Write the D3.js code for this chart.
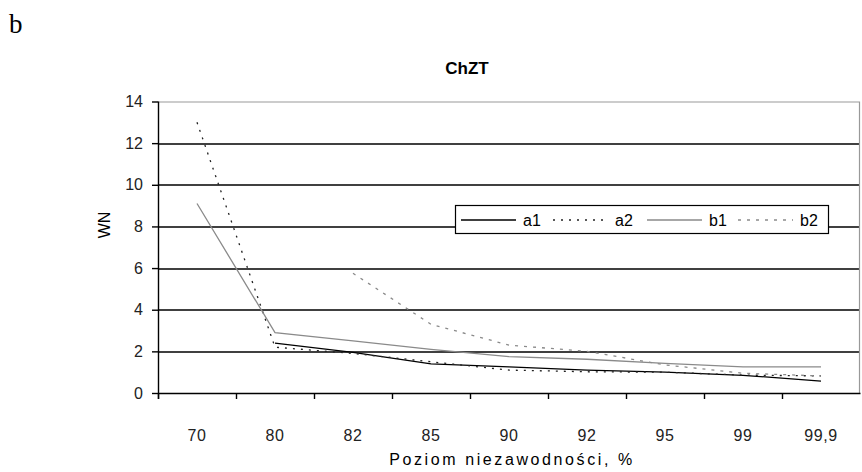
<!DOCTYPE html>
<html>
<head>
<meta charset="utf-8">
<script src="https://cdn.jsdelivr.net/npm/d3@7"></script>
<style>
  body { margin: 0; background: #fff; }
  svg { display: block; }
  text { font-family: Arial, "Liberation Sans", sans-serif; }
</style>
</head>
<body>
<div class="chart"></div>
<script>
// data
let categories = ['70', '80', '82', '85', '90', '92', '95', '99', '99,9'];
let a1 = [null, 2.4, 1.95, 1.4, 1.25, 1.1, 1.0, 0.85, 0.57];
let a2 = [13.0, 2.2, 1.9, 1.5, 1.1, 1.02, 1.0, 0.86, 0.82];
let b1 = [9.1, 2.9, 2.5, 2.1, 1.75, 1.62, 1.42, 1.25, 1.25];
let b2 = [null, null, 5.75, 3.3, 2.3, 2.0, 1.35, 0.95, 0.82];
let yTicks = [0, 2, 4, 6, 8, 10, 12, 14];

let series = [
	{name: 'a1', values: a1, color: '#000', dash: null},
	{name: 'a2', values: a2, color: '#222', dash: '2,6'},
	{name: 'b1', values: b1, color: '#8a8a8a', dash: null},
	{name: 'b2', values: b2, color: '#8a8a8a', dash: '3,6'}
];

let W = 862, H = 472;
let margin = {top: 101.5, right: 2, bottom: 79, left: 158};
let width = W - margin.left - margin.right;
let height = H - margin.top - margin.bottom;

let root = d3.select('.chart')
	.append('svg')
	.attr('width', W)
	.attr('height', H);

// panel letter
root.append('text')
	.attr('x', 9)
	.attr('y', 33)
	.style('font-family', '"Liberation Serif", "DejaVu Serif", serif')
	.style('font-size', '27px')
	.text('b');

root.append('text')
	.attr('x', 467)
	.attr('y', 74)
	.attr('text-anchor', 'middle')
	.style('font-size', '17px')
	.style('font-weight', 'bold')
	.text('ChZT');

let svg = root.append('g')
	.attr('transform', 'translate(' + margin.left + ', ' + margin.top + ')');

let xScale = d3.scaleBand()
	.domain(categories)
	.range([0, width]);

let yScale = d3.scaleLinear()
	.domain([0, 14])
	.range([height, 0]);

// gridlines
svg.append('g')
	.selectAll('line')
	.data(yTicks.slice(1, -1))
	.join('line')
	.attr('x1', 0)
	.attr('x2', width)
	.attr('y1', d => Math.round(yScale(d)) + 0.5)
	.attr('y2', d => Math.round(yScale(d)) + 0.5)
	.style('stroke', '#000')
	.style('stroke-width', 1.4);

// plot border top / right
svg.append('path')
	.attr('d', 'M0,' + (Math.round(yScale(14)) + 0.5) + 'H' + (width - 0.5) + 'V' + height)
	.style('fill', 'none')
	.style('stroke', '#999')
	.style('stroke-width', 1.2);

let yAxis = d3.axisLeft(yScale)
	.tickValues(yTicks)
	.tickSizeInner(6)
	.tickSizeOuter(0)
	.tickPadding(9);

let gy = svg.append('g').call(yAxis);
gy.select('.domain').attr('d', 'M0.5,0V' + (height + 6)).style('stroke-width', 1.4);
gy.selectAll('.tick line').style('stroke-width', 1.4);
gy.selectAll('text').style('font-size', '16px').style('fill', '#222');

let xAxis = d3.axisBottom(xScale)
	.tickSize(0)
	.tickPadding(37);

let gx = svg.append('g')
	.attr('transform', 'translate(0, ' + height + ')')
	.call(xAxis);
gx.select('.domain').style('stroke-width', 1.4);
gx.selectAll('text').style('font-size', '16px').style('fill', '#222').style('letter-spacing', '0.6px');

// x ticks sit on the category boundaries
gx.append('g')
	.selectAll('line')
	.data(categories)
	.join('line')
	.attr('x1', d => Math.round(xScale(d)) + 0.5)
	.attr('x2', d => Math.round(xScale(d)) + 0.5)
	.attr('y1', 0)
	.attr('y2', 6)
	.style('stroke', '#000')
	.style('stroke-width', 1.4);

let line = d3.line()
	.defined(d => d != null)
	.x((d, i) => xScale(categories[i]) + xScale.bandwidth() / 2)
	.y(d => yScale(d));

svg.append('g')
	.selectAll('path')
	.data(series)
	.join('path')
	.attr('d', d => line(d.values))
	.style('fill', 'none')
	.style('stroke', d => d.color)
	.style('stroke-width', 1.3)
	.style('stroke-dasharray', d => d.dash);

// legend
let legend = svg.append('g')
	.attr('transform', 'translate(' + (455 - margin.left) + ', ' + (205 - margin.top) + ')');

legend.append('rect')
	.attr('x', 0.5)
	.attr('y', 0.5)
	.attr('width', 373)
	.attr('height', 28)
	.style('fill', '#fff')
	.style('stroke', '#000')
	.style('stroke-width', 1.2);

let legendX = [6, 98, 192, 283];
series.forEach(function(s, i) {
	legend.append('line')
		.attr('x1', legendX[i])
		.attr('x2', legendX[i] + 55)
		.attr('y1', 15)
		.attr('y2', 15)
		.style('stroke', s.color)
		.style('stroke-width', 1.3)
		.style('stroke-dasharray', s.dash);
	legend.append('text')
		.attr('x', legendX[i] + 62)
		.attr('y', 20.5)
		.style('font-size', '16px')
		.text(s.name);
});

// axis titles
root.append('text')
	.attr('transform', 'translate(110, 225) rotate(-90)')
	.attr('text-anchor', 'middle')
	.style('font-size', '16px')
	.text('WN');

root.append('text')
	.attr('x', 512)
	.attr('y', 465)
	.attr('text-anchor', 'middle')
	.style('font-size', '16px')
	.style('letter-spacing', '2.6px')
	.text('Poziom niezawodności, %');
</script>
</body>
</html>
